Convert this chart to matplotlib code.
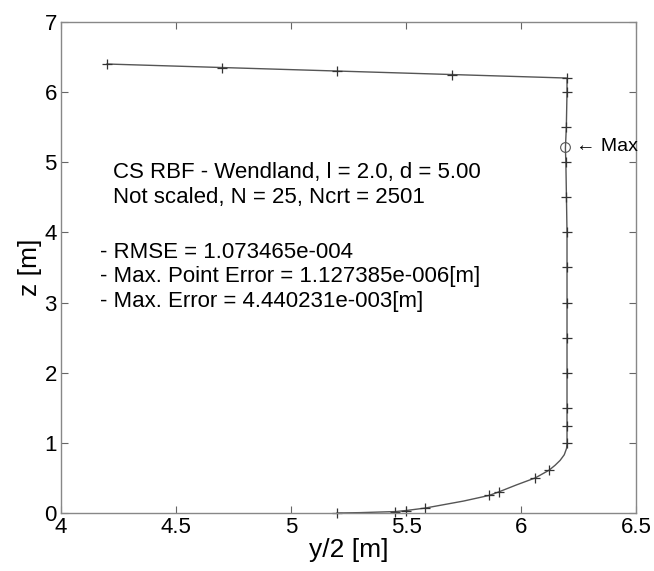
import matplotlib.pyplot as plt

plt.rcParams['font.family'] = ['Liberation Sans', 'DejaVu Sans']

# Curve (y/2, z)
curve_y = [4.2, 6.2, 6.2, 6.197, 6.193, 6.195, 6.2, 6.2, 6.2, 6.198, 6.188, 6.17, 6.148,
           6.122, 6.062, 5.98, 5.903, 5.861, 5.75, 5.583, 5.50, 5.452, 5.3, 5.2]
curve_z = [6.4, 6.2, 6.0, 5.5, 5.2, 5.0, 4.0, 2.0, 1.0, 0.92, 0.83, 0.75, 0.68,
           0.61, 0.50, 0.40, 0.30, 0.25, 0.17, 0.07, 0.035, 0.02, 0.005, 0.0]

# Control points (N = 25)
pts_y = [4.2, 4.7, 5.2, 5.7, 6.2,
         6.2, 6.197, 6.195, 6.195, 6.2, 6.2, 6.2, 6.2, 6.2, 6.2, 6.2, 6.2,
         6.122, 6.062, 5.903, 5.861, 5.583, 5.50, 5.452, 5.2]
pts_z = [6.4, 6.35, 6.3, 6.25, 6.2,
         6.0, 5.5, 5.0, 4.5, 4.0, 3.5, 3.0, 2.5, 2.0, 1.5, 1.245, 1.0,
         0.61, 0.50, 0.30, 0.25, 0.07, 0.03, 0.02, 0.0]

max_y, max_z = 6.193, 5.22

info_lines = ['CS RBF - Wendland, l = 2.0, d = 5.00',
              'Not scaled, N = 25, Ncrt = 2501']
err_lines = ['- RMSE = 1.073465e-004',
             '- Max. Point Error = 1.127385e-006[m]',
             '- Max. Error = 4.440231e-003[m]']

fig = plt.figure(figsize=(6.54, 5.71), dpi=100)
ax = fig.add_axes([0.0933, 0.1016, 0.8792, 0.86])

ax.plot(curve_y, curve_z, color='#555555', lw=1.0)
ax.plot(pts_y, pts_z, ls='none', marker='+', ms=7.5, mew=0.9, color='#333333', clip_on=False)
ax.plot([max_y], [max_z], ls='none', marker='o', ms=7, mfc='none', mec='#555555', mew=0.8)

ax.text(6.24, max_z, '\u2190 Max', fontsize=14, va='center', ha='left')

for i, s in enumerate(info_lines):
    ax.text(4.226, 4.86 - i * 0.36, s, fontsize=16, va='center', ha='left')
for i, s in enumerate(err_lines):
    ax.text(4.17, 3.72 - i * 0.35, s, fontsize=16, va='center', ha='left')

ax.set_xlim(4, 6.5)
ax.set_ylim(0, 7)
ax.set_xticks([4, 4.5, 5, 5.5, 6, 6.5])
ax.set_xticklabels(['4', '4.5', '5', '5.5', '6', '6.5'])
ax.set_yticks(range(0, 8))
ax.tick_params(direction='in', length=5, width=0.8, color='#666666',
               top=True, right=True, labelsize=16, pad=3)
for sp in ax.spines.values():
    sp.set_color('#888888')
    sp.set_linewidth(1.0)

ax.set_xlabel('y/2 [m]', fontsize=19, labelpad=0)
ax.set_ylabel('z [m]', fontsize=19, labelpad=2)

fig.savefig('out.png', dpi=100)
